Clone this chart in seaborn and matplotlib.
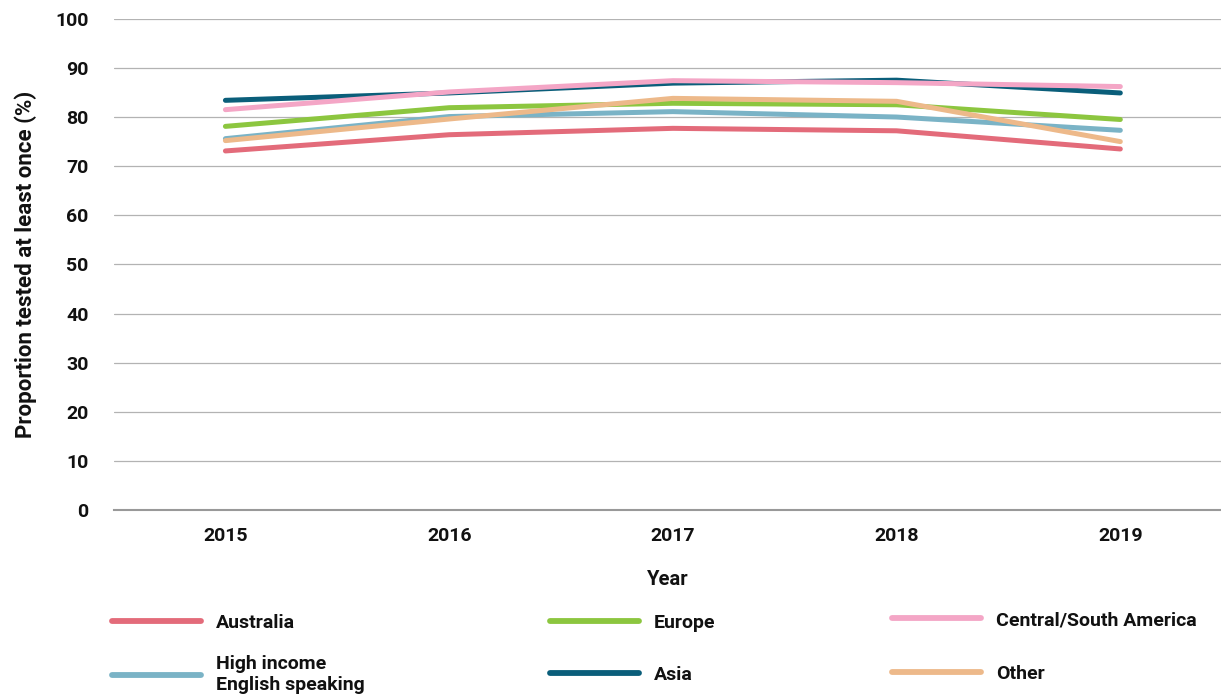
import pandas as pd
import seaborn as sns
import matplotlib.pyplot as plt

# data
years = ["2015", "2016", "2017", "2018", "2019"]
australia = [73.1, 76.4, 77.7, 77.2, 73.5]
high_income = [75.6, 80.1, 81.1, 80.0, 77.3]
europe = [78.1, 81.9, 82.8, 82.5, 79.5]
asia = [83.4, 84.9, 86.9, 87.5, 84.9]
central_south_america = [81.5, 85.1, 87.4, 87.0, 86.2]
other = [75.2, 79.6, 83.8, 83.2, 75.0]

groups = ["Australia", "High income\nEnglish speaking", "Europe", "Asia",
          "Central/South America", "Other"]
colors = ["#E36B7A", "#7AB3C6", "#8CC63F", "#0A5E7A", "#F4A6C6", "#EDB98A"]

df = pd.DataFrame({"Year": years * 6,
                   "Group": [g for g in groups for _ in years],
                   "Value": australia + high_income + europe + asia
                   + central_south_america + other})

sns.set_style("white")
plt.rcParams['font.family'] = ['Roboto', 'DejaVu Sans']
plt.rcParams['text.color'] = "#111111"

fig, ax = plt.subplots(figsize=(12.21, 6.95), dpi=100)
fig.subplots_adjust(left=0.093, right=1.0, top=0.973, bottom=0.266)

sns.lineplot(data=df, x="Year", y="Value", hue="Group",
             palette=dict(zip(groups, colors)), hue_order=groups,
             linewidth=3.6, sort=False, ax=ax, legend=False,
             solid_capstyle="round")

ax.set_ylim(0, 100)
ax.set_xlim(-0.5, 4.45)
ax.set_yticks(range(0, 101, 10))
ax.yaxis.grid(True, color="#b3b3b3", linewidth=0.9)
ax.set_axisbelow(True)
for s in ["left", "right", "top"]:
    ax.spines[s].set_visible(False)
ax.spines["bottom"].set_color("#999999")
ax.spines["bottom"].set_linewidth(1.5)
ax.tick_params(axis="both", length=0, labelsize=14, labelcolor="#111111")
ax.tick_params(axis="x", pad=12)
ax.tick_params(axis="y", pad=18)
for lbl in ax.get_xticklabels() + ax.get_yticklabels():
    lbl.set_fontweight("bold")
ax.set_xlabel("Year", fontsize=14.5, fontweight="bold", labelpad=18,
              color="#111111")
ax.set_ylabel("Proportion tested at least once (%)", fontsize=16,
              fontweight="bold", labelpad=13, color="#111111")

# legend in three columns, placed one column at a time
handles = [plt.Line2D([], [], color=c, linewidth=4.2, solid_capstyle="round")
           for c in colors]
positions = [(0.077, 0.142), (0.436, 0.142), (0.716, 0.146)]
spacings = [1.2, 1.75, 1.85]
for i, (x, y) in enumerate(positions):
    leg = fig.legend(handles[2 * i:2 * i + 2], groups[2 * i:2 * i + 2],
                     loc="upper left", bbox_to_anchor=(x, y), frameon=False,
                     handlelength=4.6, handletextpad=0.75,
                     labelspacing=spacings[i],
                     prop={"size": 14, "weight": "bold"})

fig.savefig("out.png", dpi=100)
